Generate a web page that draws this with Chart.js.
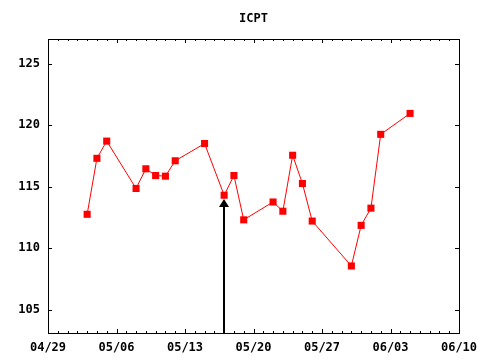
<!DOCTYPE html>
<html>
<head>
<meta charset="utf-8">
<title>ICPT</title>
<script src="https://cdn.jsdelivr.net/npm/chart.js@4/dist/chart.umd.min.js"></script>
<style>
    html, body { margin: 0; padding: 0; background: #fff; }
    canvas { display: block; }
</style>
</head>
<body>
<canvas id="myChart" width="480" height="360"></canvas>
<script>
// trading days (2006) and closing values
var dates = ["05/03", "05/04", "05/05", "05/08", "05/09", "05/10", "05/11", "05/12",
    "05/15", "05/17", "05/18", "05/19", "05/22", "05/23", "05/24", "05/25", "05/26",
    "05/30", "05/31", "06/01", "06/02", "06/05"];
var prices = [112.75, 117.3, 118.7, 114.85, 116.45, 115.9, 115.85, 117.1,
    118.5, 114.3, 115.9, 112.3, 113.75, 113.0, 117.55, 115.25, 112.2,
    108.55, 111.85, 113.25, 119.25, 120.95];
var xTickLabels = ["04/29", "05/06", "05/13", "05/20", "05/27", "06/03", "06/10"];
var yTickValues = [105, 110, 115, 120, 125];
var titleText = 'ICPT';
var arrowDate = "05/17";
var arrowTip = 114.0;
var year = 2006;

// days since 04/29
function dayOffset(label) {
    var p = label.split('/');
    var start = Date.UTC(year, 3, 29);
    return Math.round((Date.UTC(year, +p[0] - 1, +p[1]) - start) / 86400000);
}

var points = dates.map(function (d, i) {
    return {x: dayOffset(d), y: prices[i]};
});

var tickFont = {family: "'DejaVu Sans Mono', monospace", size: 12, weight: 'bold'};

// gnuplot-like frame with inward ticks, title over the plot, and the arrow
var framePlugin = {
    id: 'frame',
    afterDraw: function (chart) {
        var ctx = chart.ctx;
        var a = chart.chartArea;
        var xs = chart.scales.x;
        var ys = chart.scales.y;
        ctx.save();
        ctx.strokeStyle = '#000';
        ctx.lineWidth = 1;
        ctx.strokeRect(a.left + 0.5, a.top + 0.5, a.right - a.left, a.bottom - a.top);

        ctx.beginPath();
        for (var d = xs.min; d <= xs.max; d++) {
            var px = Math.round(xs.getPixelForValue(d)) + 0.5;
            var len = (d % 7 === 0) ? 4 : 2;
            ctx.moveTo(px, a.bottom);
            ctx.lineTo(px, a.bottom - len);
            ctx.moveTo(px, a.top);
            ctx.lineTo(px, a.top + len);
        }
        yTickValues.forEach(function (v) {
            var py = Math.round(ys.getPixelForValue(v)) + 0.5;
            ctx.moveTo(a.left, py);
            ctx.lineTo(a.left + 4, py);
            ctx.moveTo(a.right, py);
            ctx.lineTo(a.right - 4, py);
        });
        ctx.stroke();

        // title
        ctx.fillStyle = '#000';
        ctx.font = 'bold 12px "DejaVu Sans Mono", monospace';
        ctx.textAlign = 'center';
        ctx.textBaseline = 'middle';
        ctx.fillText(titleText, (a.left + a.right) / 2, 19);

        // arrow
        var ax = Math.round(xs.getPixelForValue(dayOffset(arrowDate)));
        var tip = ys.getPixelForValue(arrowTip);
        ctx.lineWidth = 2;
        ctx.beginPath();
        ctx.moveTo(ax, a.bottom);
        ctx.lineTo(ax, tip + 6);
        ctx.stroke();
        ctx.beginPath();
        ctx.moveTo(ax, tip);
        ctx.lineTo(ax - 5, tip + 8);
        ctx.lineTo(ax + 5, tip + 8);
        ctx.closePath();
        ctx.fill();
        ctx.restore();
    }
};

var ctx = document.getElementById('myChart').getContext('2d');

new Chart(ctx, {
    type: 'line',
    data: {
        datasets: [{
            label: titleText,
            data: points,
            borderColor: '#ff0000',
            borderWidth: 1,
            backgroundColor: '#ff0000',
            pointStyle: 'rect',
            pointRadius: 5,
            pointBorderWidth: 0,
            tension: 0
        }]
    },
    options: {
        responsive: false,
        animation: false,
        devicePixelRatio: 1,
        layout: {padding: {left: 0, right: 21, top: 39, bottom: 0}},
        plugins: {
            legend: {display: false},
            tooltip: {enabled: false},
            title: {display: false}
        },
        scales: {
            x: {
                type: 'linear',
                min: 0,
                max: 42,
                grid: {display: false},
                border: {display: false},
                ticks: {
                    stepSize: 7,
                    maxRotation: 0,
                    autoSkip: false,
                    padding: 0,
                    color: '#000',
                    font: tickFont,
                    callback: function (v) {
                        return xTickLabels[v / 7];
                    }
                },
                afterFit: function (scale) {
                    scale.height = 27;
                    scale.paddingLeft = 0;
                    scale.paddingRight = 0;
                }
            },
            y: {
                min: 103.1,
                max: 127,
                grid: {display: false},
                border: {display: false},
                ticks: {
                    stepSize: 5,
                    includeBounds: false,
                    padding: 0,
                    color: '#000',
                    font: tickFont
                },
                afterFit: function (scale) {
                    scale.width = 48;
                    scale.paddingTop = 0;
                    scale.paddingBottom = 0;
                }
            }
        }
    },
    plugins: [framePlugin]
});
</script>
</body>
</html>
